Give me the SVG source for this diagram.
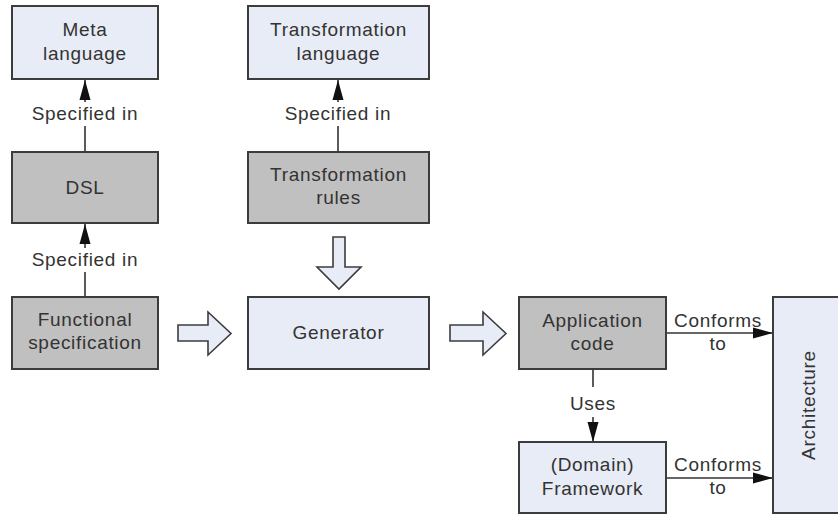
<svg xmlns="http://www.w3.org/2000/svg" width="838" height="515" viewBox="0 0 838 515">
  <style>
    .box { stroke: #3c3c3c; stroke-width: 2; }
    .light { fill: #e8ecf6; }
    .gray { fill: #c0c0c0; }
    .lbl { font-family: "Liberation Sans", Arial, sans-serif; font-size: 19px; letter-spacing: 0.7px; fill: #333333; text-anchor: middle; }
    .line { stroke: #333333; stroke-width: 1.6; fill: none; }
    .bg { fill: #ffffff; }
    .hollow { fill: #e8ecf6; stroke: #3c3c3c; stroke-width: 1.6; stroke-linejoin: miter; }
  </style>
  <defs>
    <marker id="head" viewBox="0 0 20 12" refX="20" refY="6" markerWidth="20" markerHeight="12" markerUnits="userSpaceOnUse" orient="auto">
      <path d="M0,0.5 L20,6 L0,11.5 Z" fill="#111111"/>
    </marker>
  </defs>
  <rect width="838" height="515" fill="#ffffff"/>

  <!-- connectors -->
  <g id="connectors">
    <line class="line" x1="85" y1="152" x2="85" y2="80" marker-end="url(#head)"/>
    <rect class="bg" x="30" y="102" width="110" height="24"/>
    <text class="lbl" x="85" y="120">Specified in</text>

    <line class="line" x1="85" y1="297" x2="85" y2="224" marker-end="url(#head)"/>
    <rect class="bg" x="30" y="248" width="110" height="24"/>
    <text class="lbl" x="85" y="266">Specified in</text>

    <line class="line" x1="338" y1="152" x2="338" y2="80" marker-end="url(#head)"/>
    <rect class="bg" x="283" y="102" width="110" height="24"/>
    <text class="lbl" x="338" y="120">Specified in</text>

    <line class="line" x1="593" y1="369" x2="593" y2="442" marker-end="url(#head)"/>
    <rect class="bg" x="568" y="387" width="50" height="30"/>
    <text class="lbl" x="593" y="410">Uses</text>

    <line class="line" x1="666" y1="333" x2="773" y2="333" marker-end="url(#head)"/>
    <text class="lbl" x="718" y="327">Conforms</text>
    <text class="lbl" x="718" y="350">to</text>

    <line class="line" x1="666" y1="478" x2="773" y2="478" marker-end="url(#head)"/>
    <text class="lbl" x="718" y="471">Conforms</text>
    <text class="lbl" x="718" y="494">to</text>

    <!-- block arrows -->
    <path class="hollow" d="M333,237 L345,237 L345,267 L361,267 L339,289 L317,267 L333,267 Z"/>
    <path class="hollow" d="M178,325 L208,325 L208,312 L231,333.5 L208,355 L208,341 L178,341 Z"/>
    <path class="hollow" d="M450,325 L483,325 L483,312 L506,333.5 L483,355 L483,341 L450,341 Z"/>
  </g>

  <g id="meta-language">
    <rect class="box light" x="12" y="6" width="146" height="73"/>
    <text class="lbl" x="85" y="36">Meta</text>
    <text class="lbl" x="85" y="60">language</text>
  </g>

  <g id="dsl">
    <rect class="box gray" x="12" y="152" width="146" height="71"/>
    <text class="lbl" x="85" y="194">DSL</text>
  </g>

  <g id="functional-specification">
    <rect class="box gray" x="12" y="297" width="146" height="72"/>
    <text class="lbl" x="85" y="326">Functional</text>
    <text class="lbl" x="85" y="349">specification</text>
  </g>

  <g id="transformation-language">
    <rect class="box light" x="248" y="6" width="181" height="73"/>
    <text class="lbl" x="338.5" y="36">Transformation</text>
    <text class="lbl" x="338.5" y="60">language</text>
  </g>

  <g id="transformation-rules">
    <rect class="box gray" x="248" y="152" width="181" height="71"/>
    <text class="lbl" x="338.5" y="181">Transformation</text>
    <text class="lbl" x="338.5" y="204">rules</text>
  </g>

  <g id="generator">
    <rect class="box light" x="248" y="297" width="181" height="72"/>
    <text class="lbl" x="338.5" y="339">Generator</text>
  </g>

  <g id="application-code">
    <rect class="box gray" x="519" y="297" width="147" height="72"/>
    <text class="lbl" x="592.5" y="327">Application</text>
    <text class="lbl" x="592.5" y="350">code</text>
  </g>

  <g id="domain-framework">
    <rect class="box light" x="519" y="442" width="147" height="71"/>
    <text class="lbl" x="592.5" y="471">(Domain)</text>
    <text class="lbl" x="592.5" y="495">Framework</text>
  </g>

  <g id="architecture">
    <rect class="box light" x="773" y="297" width="72" height="216"/>
    <text class="lbl" transform="translate(815,405) rotate(-90)" x="0" y="0">Architecture</text>
  </g>
</svg>
